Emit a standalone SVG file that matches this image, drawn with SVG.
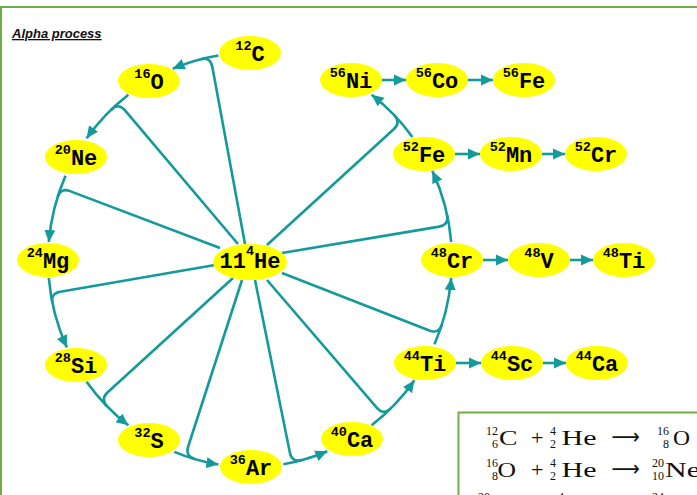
<svg xmlns="http://www.w3.org/2000/svg" width="697" height="495" viewBox="0 0 697 495">
<style>
.node ellipse{fill:#ffff00}
.node text{font-family:"Liberation Mono",monospace;font-weight:bold;text-anchor:middle;fill:#000}
.sup{font-size:13.5px}
.main{font-size:22px}
.conn path,.conn line{fill:none;stroke:#139a9a;stroke-width:2.6;stroke-linejoin:round}
.arr{marker-end:url(#ah)}
.frame{fill:none;stroke:#70ad47;stroke-width:2}
.eq{font-family:"Liberation Serif",serif;fill:#111}
.eqm{font-size:22px}
.eqs{font-size:12px;text-anchor:end}
.eqa{font-family:"DejaVu Sans",sans-serif;font-size:22px;fill:#111}
</style>
<defs>
<marker id="ah" markerUnits="userSpaceOnUse" markerWidth="12" markerHeight="12" viewBox="0 0 12 12" refX="12" refY="6" orient="auto">
<path d="M0,0.5 L12,6 L0,11.5 z" fill="#139a9a"/>
</marker>
</defs>
<rect width="697" height="495" fill="#ffffff"/>
<path class="frame" d="M1,495 V7 H697"/>
<text x="12" y="38" font-family="Liberation Sans,sans-serif" font-size="13" font-weight="bold" font-style="italic" text-decoration="underline" fill="#111">Alpha process</text>

<g id="connectors" class="conn">
<path class="arr" d="M218.4,55.5 A202,207 0 0 0 172.7,68.8"/>
<path class="arr" d="M128.4,94.7 A202,207 0 0 0 86.6,138.3"/>
<path class="arr" d="M65.5,175.8 A202,207 0 0 0 48.8,242"/>
<path class="arr" d="M48.8,278 A202,207 0 0 0 66.9,347.5"/>
<path class="arr" d="M86.6,381.7 A202,207 0 0 0 128.4,425.3"/>
<path class="arr" d="M174.3,451.9 A202,207 0 0 0 218.4,464.5"/>
<path class="arr" d="M283.3,464.2 A202,207 0 0 0 327.3,451.2"/>
<path class="arr" d="M371.6,425.3 A202,207 0 0 0 414.4,380.2"/>
<path class="arr" d="M434.5,344.2 A202,207 0 0 0 451.2,278"/>
<path class="arr" d="M451.2,242 A202,207 0 0 0 432.3,170.9"/>
<path class="arr" d="M412.4,136.9 A202,207 0 0 0 371.6,94.7"/>
<path d="M245,244 L212.3,66.8 Q210.5,57 200.8,59.2"/>
<path d="M238,244 L124.8,110.2 Q118.3,102.6 111.2,109.6"/>
<path d="M220,248 L70,191.1 Q60.7,187.6 57.6,197.1"/>
<path d="M215,265 L60.3,291.7 Q50.4,293.4 52.4,303"/>
<path d="M233,278 L107.7,392.2 Q100.3,398.9 106.9,406.1"/>
<path d="M242,280 L188.2,446.5 Q185.1,456 194.7,459.1"/>
<path d="M255,280 L289.9,452.7 Q291.9,462.5 301.6,460.1"/>
<path d="M267,280 L376.9,407.9 Q383.4,415.5 390.6,408.6"/>
<path d="M282,273 L429.3,330.5 Q438.6,334.1 441.9,324.6"/>
<path d="M282,253 L439.3,226.6 Q449.2,224.9 447.1,214.9"/>
<path d="M267,245 L393.7,129.3 Q401.1,122.6 394.3,115.2"/>
<line class="arr" x1="382" y1="80" x2="406" y2="80"/>
<line class="arr" x1="468" y1="80" x2="493" y2="80"/>
<line class="arr" x1="455" y1="154" x2="480" y2="154"/>
<line class="arr" x1="542" y1="154" x2="565" y2="154"/>
<line class="arr" x1="483" y1="260" x2="508" y2="260"/>
<line class="arr" x1="570" y1="260" x2="593" y2="260"/>
<line class="arr" x1="456" y1="363" x2="481" y2="363"/>
<line class="arr" x1="543" y1="363" x2="566" y2="363"/>
</g>

<g id="n-He4" class="node"><ellipse cx="250" cy="262" rx="37" ry="18"/><text x="250" y="268"><tspan class="main">11</tspan><tspan class="sup" dy="-13">4</tspan><tspan class="main" dy="13">He</tspan></text></g>
<g id="n-C12" class="node"><ellipse cx="250" cy="53" rx="31" ry="17"/><text x="250" y="61"><tspan class="sup" dy="-11">12</tspan><tspan class="main" dy="11">C</tspan></text></g>
<g id="n-O16" class="node"><ellipse cx="149" cy="81" rx="31" ry="17"/><text x="149" y="89"><tspan class="sup" dy="-11">16</tspan><tspan class="main" dy="11">O</tspan></text></g>
<g id="n-Ne20" class="node"><ellipse cx="76" cy="157" rx="31" ry="17"/><text x="76" y="165"><tspan class="sup" dy="-11">20</tspan><tspan class="main" dy="11">Ne</tspan></text></g>
<g id="n-Mg24" class="node"><ellipse cx="48" cy="260" rx="31" ry="17"/><text x="48" y="268"><tspan class="sup" dy="-11">24</tspan><tspan class="main" dy="11">Mg</tspan></text></g>
<g id="n-Si28" class="node"><ellipse cx="76" cy="365" rx="31" ry="17"/><text x="76" y="373"><tspan class="sup" dy="-11">28</tspan><tspan class="main" dy="11">Si</tspan></text></g>
<g id="n-S32" class="node"><ellipse cx="149" cy="440" rx="31" ry="17"/><text x="149" y="448"><tspan class="sup" dy="-11">32</tspan><tspan class="main" dy="11">S</tspan></text></g>
<g id="n-Ar36" class="node"><ellipse cx="251" cy="467" rx="31" ry="17"/><text x="251" y="475"><tspan class="sup" dy="-11">36</tspan><tspan class="main" dy="11">Ar</tspan></text></g>
<g id="n-Ca40" class="node"><ellipse cx="352" cy="439" rx="31" ry="17"/><text x="352" y="447"><tspan class="sup" dy="-11">40</tspan><tspan class="main" dy="11">Ca</tspan></text></g>
<g id="n-Ti44" class="node"><ellipse cx="425" cy="363" rx="31" ry="17"/><text x="425" y="371"><tspan class="sup" dy="-11">44</tspan><tspan class="main" dy="11">Ti</tspan></text></g>
<g id="n-Sc44" class="node"><ellipse cx="512" cy="363" rx="31" ry="17"/><text x="512" y="371"><tspan class="sup" dy="-11">44</tspan><tspan class="main" dy="11">Sc</tspan></text></g>
<g id="n-Ca44" class="node"><ellipse cx="597" cy="363" rx="31" ry="17"/><text x="597" y="371"><tspan class="sup" dy="-11">44</tspan><tspan class="main" dy="11">Ca</tspan></text></g>
<g id="n-Cr48" class="node"><ellipse cx="452" cy="260" rx="31" ry="17"/><text x="452" y="268"><tspan class="sup" dy="-11">48</tspan><tspan class="main" dy="11">Cr</tspan></text></g>
<g id="n-V48" class="node"><ellipse cx="539" cy="260" rx="31" ry="17"/><text x="539" y="268"><tspan class="sup" dy="-11">48</tspan><tspan class="main" dy="11">V</tspan></text></g>
<g id="n-Ti48" class="node"><ellipse cx="624" cy="260" rx="31" ry="17"/><text x="624" y="268"><tspan class="sup" dy="-11">48</tspan><tspan class="main" dy="11">Ti</tspan></text></g>
<g id="n-Fe52" class="node"><ellipse cx="424" cy="154" rx="31" ry="17"/><text x="424" y="162"><tspan class="sup" dy="-11">52</tspan><tspan class="main" dy="11">Fe</tspan></text></g>
<g id="n-Mn52" class="node"><ellipse cx="511" cy="154" rx="31" ry="17"/><text x="511" y="162"><tspan class="sup" dy="-11">52</tspan><tspan class="main" dy="11">Mn</tspan></text></g>
<g id="n-Cr52" class="node"><ellipse cx="596" cy="154" rx="31" ry="17"/><text x="596" y="162"><tspan class="sup" dy="-11">52</tspan><tspan class="main" dy="11">Cr</tspan></text></g>
<g id="n-Ni56" class="node"><ellipse cx="351" cy="80" rx="31" ry="17"/><text x="351" y="88"><tspan class="sup" dy="-11">56</tspan><tspan class="main" dy="11">Ni</tspan></text></g>
<g id="n-Co56" class="node"><ellipse cx="437" cy="80" rx="31" ry="17"/><text x="437" y="88"><tspan class="sup" dy="-11">56</tspan><tspan class="main" dy="11">Co</tspan></text></g>
<g id="n-Fe56" class="node"><ellipse cx="524" cy="80" rx="31" ry="17"/><text x="524" y="88"><tspan class="sup" dy="-11">56</tspan><tspan class="main" dy="11">Fe</tspan></text></g>

<g id="equations">
<rect x="458.5" y="412.5" width="260" height="100" fill="#ffffff" stroke="#70ad47" stroke-width="2"/>
<g class="eq">
<text class="eqs" x="498" y="434.5">12</text><text class="eqs" x="498" y="448">6</text>
<text class="eqm" x="499" y="445" textLength="18.5" lengthAdjust="spacingAndGlyphs">C</text>
<text class="eqm" x="531" y="445">+</text>
<text class="eqs" x="556" y="434.5">4</text><text class="eqs" x="556" y="448">2</text>
<text class="eqm" x="561.5" y="445" textLength="35" lengthAdjust="spacingAndGlyphs">He</text>
<text class="eqa" x="611.5" y="443.5" textLength="28.5" lengthAdjust="spacingAndGlyphs">⟶</text>
<text class="eqs" x="669" y="434.5">16</text><text class="eqs" x="669" y="448">8</text>
<text class="eqm" x="673" y="445" textLength="17" lengthAdjust="spacingAndGlyphs">O</text>

<text class="eqs" x="498" y="466.5">16</text><text class="eqs" x="498" y="480">8</text>
<text class="eqm" x="497.5" y="477" textLength="18.5" lengthAdjust="spacingAndGlyphs">O</text>
<text class="eqm" x="531" y="477">+</text>
<text class="eqs" x="556" y="466.5">4</text><text class="eqs" x="556" y="480">2</text>
<text class="eqm" x="561.5" y="477" textLength="35" lengthAdjust="spacingAndGlyphs">He</text>
<text class="eqa" x="611.5" y="475.5" textLength="28.5" lengthAdjust="spacingAndGlyphs">⟶</text>
<text class="eqs" x="664" y="466.5">20</text><text class="eqs" x="664" y="480">10</text>
<text class="eqm" x="665" y="477" textLength="35" lengthAdjust="spacingAndGlyphs">Ne</text>

<text class="eqs" x="490" y="501">20</text><text class="eqs" x="490" y="514">10</text>
<text class="eqm" x="491" y="511" textLength="35" lengthAdjust="spacingAndGlyphs">Ne</text>
<text class="eqm" x="535" y="511">+</text>
<text class="eqs" x="564" y="501">4</text><text class="eqs" x="564" y="514">2</text>
<text class="eqm" x="569.5" y="511" textLength="35" lengthAdjust="spacingAndGlyphs">He</text>
<text class="eqa" x="616" y="509.5" textLength="28.5" lengthAdjust="spacingAndGlyphs">⟶</text>
<text class="eqs" x="664" y="501">24</text><text class="eqs" x="664" y="514">12</text>
<text class="eqm" x="665" y="511" textLength="38" lengthAdjust="spacingAndGlyphs">Mg</text>
</g>
</g>
</svg>
